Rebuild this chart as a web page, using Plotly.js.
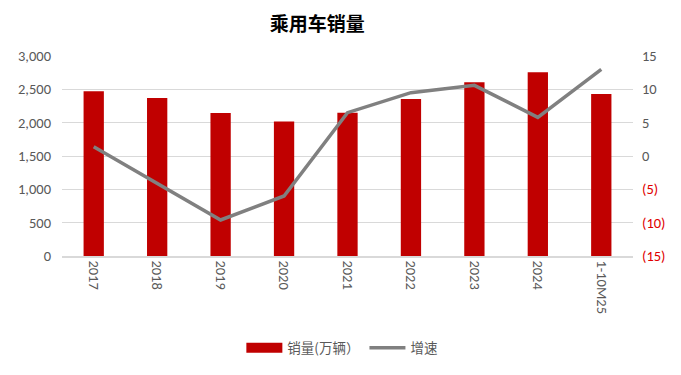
<!DOCTYPE html>
<html><head><meta charset="utf-8">
<script src="https://cdn.plot.ly/plotly-3.0.1.min.js"></script>
<style>body{margin:0;background:#fff}#c{width:681px;height:375px}</style>
</head><body><div id="c"></div>
<script>
const categories = ["2017","2018","2019","2020","2021","2022","2023","2024","1-10M25"];
const sales = [2472, 2371, 2144, 2018, 2148, 2356, 2606, 2756, 2430];
const growth = [1.4, -4.1, -9.6, -6.0, 6.5, 9.5, 10.6, 5.8, 13.0];
const leftTicks = [0, 500, 1000, 1500, 2000, 2500, 3000];
const leftTickText = ["0","500","1,000","1,500","2,000","2,500","3,000"];
const rightTicks = [-15, -10, -5, 0, 5, 10, 15];
const rightTickText = ['<span style="color:#e00000">(15)</span>','<span style="color:#e00000">(10)</span>','<span style="color:#e00000">(5)</span>',"0","5","10","15"];

const font = "Calibri, Carlito, 'Liberation Sans', 'Noto Sans CJK SC', sans-serif";
const data = [
  {type:"bar", x:categories, y:sales, name:"销量(万辆）", marker:{color:"#c00000"}, yaxis:"y", showlegend:false},
  {type:"scatter", mode:"lines", x:[null], y:[null], name:"销量(万辆）", line:{color:"#c00000", width:10}, yaxis:"y", hoverinfo:"skip"},
  {type:"scatter", mode:"lines", x:categories, y:growth, name:"增速", line:{color:"#808080", width:3.5}, yaxis:"y2"}
];
const layout = {
  width:681, height:375,
  margin:{l:62, r:48, t:56, b:119},
  paper_bgcolor:"#fff", plot_bgcolor:"#fff",
  font:{family:font, size:14.5, color:"#595959"},
  title:{text:"<b>乘用车销量</b>", x:0.466, xanchor:"center", y:0.935, yanchor:"middle", font:{family:"'Noto Sans CJK SC', sans-serif", size:19, color:"#000"}},
  bargap:0.68,
  showlegend:true,
  legend:{orientation:"h", x:0.491, xanchor:"center", y:-0.46, yanchor:"middle", font:{family:"'Noto Sans CJK SC', sans-serif", size:13.5, color:"#595959"}, itemwidth:36, tracegroupgap:0},
  xaxis:{type:"category", tickangle:90, showgrid:false, showline:true, linecolor:"#d9d9d9", linewidth:1.5, ticks:"", tickfont:{size:14.5, color:"#595959"}},
  yaxis:{range:[0,3000], tickvals:leftTicks, ticktext:leftTickText, showgrid:true, gridcolor:"#d9d9d9", gridwidth:1, zeroline:false, showline:false, ticks:"", ticklabelstandoff:10, tickfont:{size:14.5, color:"#595959"}},
  yaxis2:{range:[-15,15], overlaying:"y", side:"right", tickvals:rightTicks, ticktext:rightTickText, showgrid:false, zeroline:false, showline:false, ticks:"", ticklabelstandoff:8, tickfont:{size:14.5, color:"#595959"}}
};
Plotly.newPlot("c", data, layout, {displayModeBar:false, staticPlot:true});
</script></body></html>
